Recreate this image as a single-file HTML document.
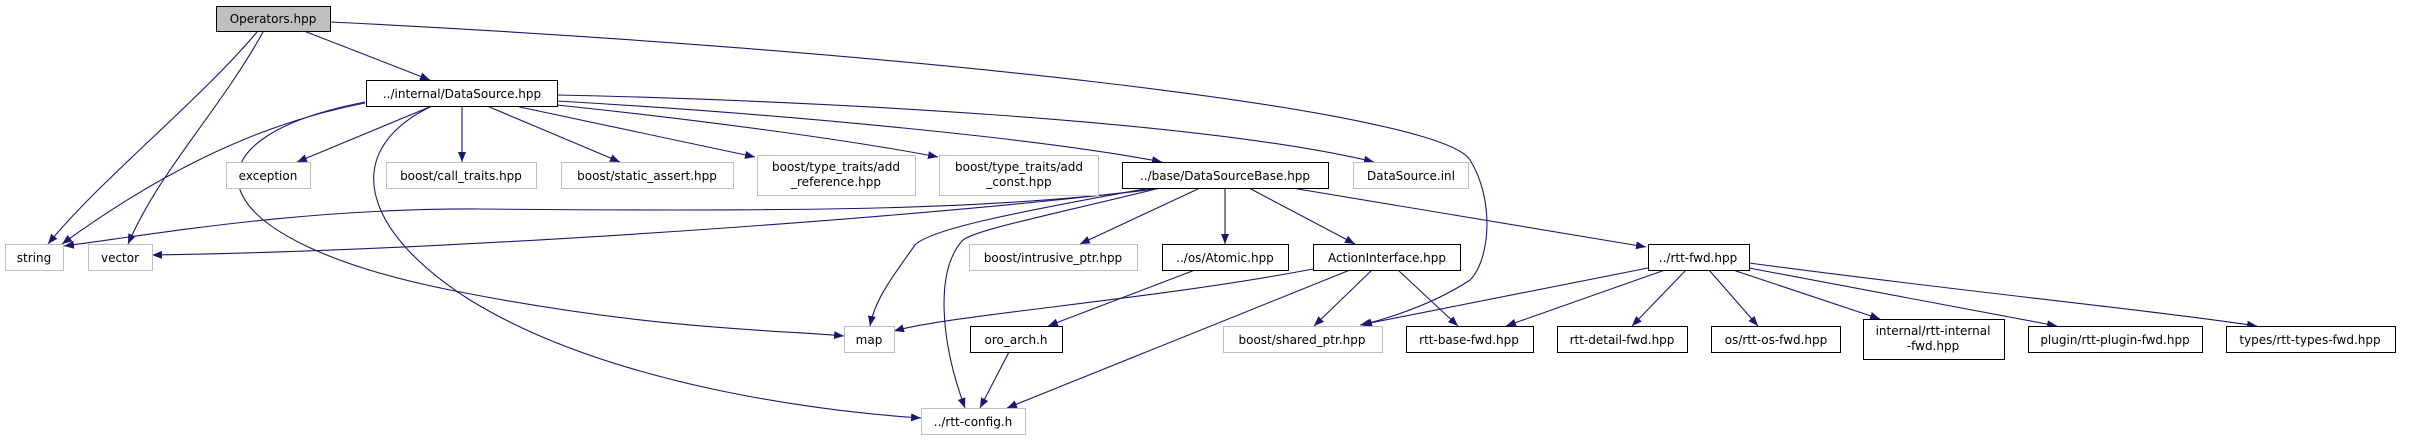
<!DOCTYPE html>
<html><head><meta charset="utf-8"><style>
html,body{margin:0;padding:0;background:#fff}
svg{display:block}
text{font-family:"DejaVu Sans","Liberation Sans",sans-serif;font-size:12px;fill:#000}
</style></head><body>
<svg width="2409" height="440" viewBox="0 0 2409 440" xmlns="http://www.w3.org/2000/svg">
<defs>
<marker id="a" markerWidth="10" markerHeight="8" refX="10" refY="4" orient="auto" markerUnits="userSpaceOnUse">
<path d="M0,0 L10,4 L0,8 Z" fill="#191970"/>
</marker>
</defs>
<g fill="none" stroke="#191970" stroke-width="1.1" marker-end="url(#a)">
<path d="M304,31 L430,80"/>
<path d="M257,32 C200,100 100,180 48,244"/>
<path d="M263,32 C220,110 160,170 128,244"/>
<path d="M331,22 C900,50 1440,110 1470,160 C1495,200 1490,260 1470,280 C1440,300 1400,315 1362,325"/>
<path d="M365,103 C250,125 150,180 62,244"/>
<path d="M365,102 C170,140 200,240 450,290 C650,330 780,330 844,336"/>
<path d="M432,106 C340,150 360,230 470,300 C600,380 800,410 921,418"/>
<path d="M432,106 L297,162"/>
<path d="M462,106 L462,162"/>
<path d="M487,106 L620,162"/>
<path d="M515,106 L755,157"/>
<path d="M557,105 C700,120 850,140 938,157"/>
<path d="M557,101 C800,115 1050,140 1162,162"/>
<path d="M557,95 C800,100 1200,120 1374,162"/>
<path d="M1163,188 C1000,210 800,212 480,209 C300,208 150,235 64,246"/>
<path d="M1160,188 C1000,210 500,250 152,255"/>
<path d="M1150,188 C1000,215 930,230 915,245 C890,280 875,300 870,326"/>
<path d="M1160,188 C1050,215 975,230 963,240 C935,270 940,340 965,408"/>
<path d="M1200,188 L1080,244"/>
<path d="M1225,188 L1225,244"/>
<path d="M1249,188 L1355,244"/>
<path d="M1292,188 L1646,247"/>
<path d="M1195,270 L1048,326"/>
<path d="M1313,269 C1150,300 950,315 894,331"/>
<path d="M1372,270 L1314,326"/>
<path d="M1350,270 C1200,330 1100,370 1007,408"/>
<path d="M1398,270 L1458,326"/>
<path d="M1009,352 L980,408"/>
<path d="M1648,268 L1360,325"/>
<path d="M1665,270 L1506,326"/>
<path d="M1686,270 L1632,326"/>
<path d="M1709,270 L1758,326"/>
<path d="M1733,270 L1880,319"/>
<path d="M1749,268 L2057,326"/>
<path d="M1749,263 C1950,290 2150,310 2257,326"/>
</g>
<g stroke-width="1">
<rect x="216.5" y="6.5" width="114" height="25" fill="#bfbfbf" stroke="#000"/>
<rect x="366.5" y="80.5" width="191" height="26" fill="#fff" stroke="#000"/>
<rect x="226.5" y="162.5" width="84" height="26" fill="#fff" stroke="#bfbfbf"/>
<rect x="386.5" y="162.5" width="150" height="26" fill="#fff" stroke="#bfbfbf"/>
<rect x="561.5" y="162.5" width="172" height="26" fill="#fff" stroke="#bfbfbf"/>
<rect x="757.5" y="155.5" width="158" height="40" fill="#fff" stroke="#bfbfbf"/>
<rect x="939.5" y="155.5" width="159" height="40" fill="#fff" stroke="#bfbfbf"/>
<rect x="1122.5" y="162.5" width="206" height="26" fill="#fff" stroke="#000"/>
<rect x="1353.5" y="162.5" width="115" height="26" fill="#fff" stroke="#bfbfbf"/>
<rect x="5.5" y="244.5" width="58" height="26" fill="#fff" stroke="#bfbfbf"/>
<rect x="88.5" y="244.5" width="64" height="26" fill="#fff" stroke="#bfbfbf"/>
<rect x="969.5" y="244.5" width="168" height="26" fill="#fff" stroke="#bfbfbf"/>
<rect x="1162.5" y="244.5" width="126" height="26" fill="#fff" stroke="#000"/>
<rect x="1313.5" y="244.5" width="147" height="26" fill="#fff" stroke="#000"/>
<rect x="1648.5" y="244.5" width="101" height="26" fill="#fff" stroke="#000"/>
<rect x="844.5" y="326.5" width="50" height="26" fill="#fff" stroke="#bfbfbf"/>
<rect x="970.5" y="326.5" width="92" height="26" fill="#fff" stroke="#000"/>
<rect x="1223.5" y="326.5" width="159" height="26" fill="#fff" stroke="#bfbfbf"/>
<rect x="1406.5" y="326.5" width="127" height="26" fill="#fff" stroke="#000"/>
<rect x="1557.5" y="326.5" width="130" height="26" fill="#fff" stroke="#000"/>
<rect x="1711.5" y="326.5" width="129" height="26" fill="#fff" stroke="#000"/>
<rect x="1863.5" y="319.5" width="141" height="40" fill="#fff" stroke="#000"/>
<rect x="2028.5" y="326.5" width="174" height="26" fill="#fff" stroke="#000"/>
<rect x="2226.5" y="326.5" width="169" height="26" fill="#fff" stroke="#000"/>
<rect x="921.5" y="408.5" width="104" height="26" fill="#fff" stroke="#bfbfbf"/>
</g>
<g text-anchor="middle">
<text x="273" y="23">Operators.hpp</text>
<text x="462" y="98">../internal/DataSource.hpp</text>
<text x="268" y="180">exception</text>
<text x="461" y="180">boost/call_traits.hpp</text>
<text x="647" y="180">boost/static_assert.hpp</text>
<text x="836" y="171">boost/type_traits/add</text>
<text x="836" y="186">_reference.hpp</text>
<text x="1019" y="171">boost/type_traits/add</text>
<text x="1019" y="186">_const.hpp</text>
<text x="1225" y="180">../base/DataSourceBase.hpp</text>
<text x="1411" y="180">DataSource.inl</text>
<text x="34" y="262">string</text>
<text x="120" y="262">vector</text>
<text x="1053" y="262">boost/intrusive_ptr.hpp</text>
<text x="1225" y="262">../os/Atomic.hpp</text>
<text x="1387" y="262">ActionInterface.hpp</text>
<text x="1698" y="262">../rtt-fwd.hpp</text>
<text x="869" y="344">map</text>
<text x="1016" y="344">oro_arch.h</text>
<text x="1302" y="344">boost/shared_ptr.hpp</text>
<text x="1469" y="344">rtt-base-fwd.hpp</text>
<text x="1622" y="344">rtt-detail-fwd.hpp</text>
<text x="1776" y="344">os/rtt-os-fwd.hpp</text>
<text x="1933" y="335">internal/rtt-internal</text>
<text x="1933" y="350">-fwd.hpp</text>
<text x="2115" y="344">plugin/rtt-plugin-fwd.hpp</text>
<text x="2310" y="344">types/rtt-types-fwd.hpp</text>
<text x="973" y="426">../rtt-config.h</text>
</g>
</svg>
</body></html>
